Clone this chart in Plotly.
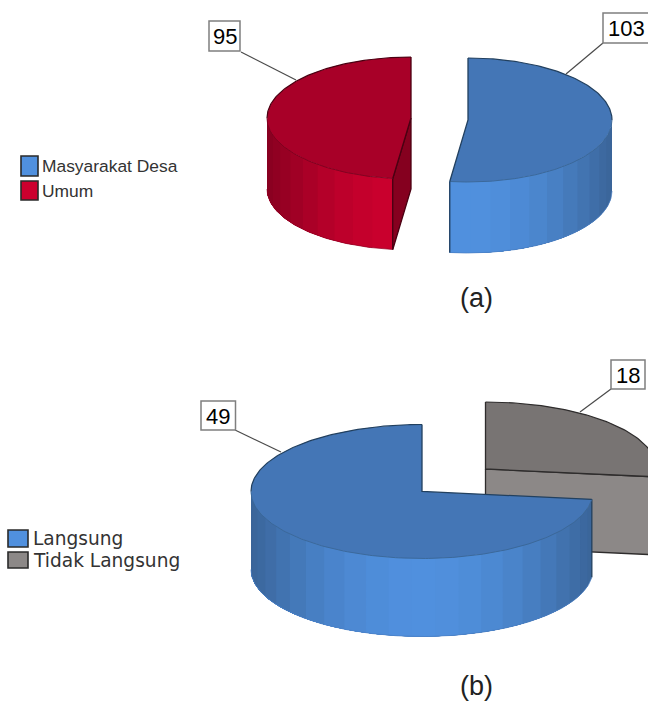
import math
import plotly.graph_objects as go

# Respondent counts for the two pie charts
labels_a = ["Masyarakat Desa", "Umum"]
values_a = [103, 95]
labels_b = ["Langsung", "Tidak Langsung"]
values_b = [49, 18]

BLUE = dict(top="#4476B6", light="#5090DE", dark="#3A6498", edge="#22405F", rim="#3A6696", base="#4A80C4")
RED = dict(top="#A80028", light="#CC002E", dark="#870020", edge="#4A0012", rim="#7A001E", base="#900022", inner="#85001F")
GREY = dict(top="#787473", light="#8C8887", dark="#6E6A69", edge="#2E2C2C", rim="#3A3838", base="#777372", inner="#8C8887")

fig = go.Figure()


def rim(p, deg, drop=0):
    a = math.radians(deg)
    return p["cx"] + p["rx"] * math.sin(a), p["cy"] + drop - p["ry"] * math.cos(a)


def arc(p, start, stop, drop=0, step=1.0):
    n = max(2, int(abs(stop - start) / step) + 1)
    return [rim(p, start + (stop - start) * i / (n - 1), drop) for i in range(n)]


def mix(c1, c2, f):
    a = [int(c1[i:i + 2], 16) for i in (1, 3, 5)]
    b = [int(c2[i:i + 2], 16) for i in (1, 3, 5)]
    return "#%02x%02x%02x" % tuple(round(x + (y - x) * f) for x, y in zip(a, b))


def poly(points, fill, line=None, width=0.0, closed=True):
    xs = [q[0] for q in points]
    ys = [q[1] for q in points]
    if closed:
        xs.append(xs[0])
        ys.append(ys[0])
    fig.add_trace(go.Scatter(
        x=xs, y=ys, mode="lines", hoverinfo="skip", showlegend=False,
        fill="toself" if fill else "none", fillcolor=fill,
        line=dict(color=line or fill or "rgba(0,0,0,0)", width=width),
    ))


def slice3d(p, start, stop, col, band=8.0):
    """Draw a wedge running clockwise from start to stop, in degrees from 12 o'clock."""
    # Outer wall: only the front half of the cylinder can be seen
    for base in (0, 360, -360):
        lo, hi = max(start + base, 90), min(stop + base, 270)
        if lo >= hi:
            continue
        n = max(1, round((hi - lo) / band))
        # Each band runs to the far end of the wall, so later bands cover the seams
        for i in range(n):
            a, b = lo + (hi - lo) * i / n, lo + (hi - lo) * (i + 1) / n
            t = abs(math.sin(math.radians((a + b) / 2 - 180)))
            shade = mix(col["light"], col["dark"], t ** 2)
            poly(arc(p, a, hi) + arc(p, hi, a, p["depth"]), shade)
        poly(arc(p, lo, hi, p["depth"]), None, col["base"], 0.7, closed=False)
        for ang in (lo, hi):
            if ang not in (90, 270):
                poly([rim(p, ang), rim(p, ang, p["depth"])], None, col["edge"], 1.3, closed=False)
    # Cut face that looks towards the viewer
    if "cut" in p:
        centre = (p["cx"], p["cy"])
        ang = p["cut"]
        poly([centre, rim(p, ang), rim(p, ang, p["depth"]), (p["cx"], p["cy"] + p["depth"])],
             col["inner"], col["edge"], 1.3)
    # Top face
    centre = (p["cx"], p["cy"])
    poly([centre] + arc(p, start, stop), col["top"], None, 0)
    lo, hi = max(start, 90), min(stop, 270)
    if start < 0:
        lo, hi = max(start + 360, 90), 270
    if lo < hi:
        poly(arc(p, lo, hi), None, col["rim"], 0.9, closed=False)
    back = arc(p, start, min(stop, 90)) if start >= 0 else arc(p, 270, 360)
    poly(back, None, col["edge"], 1.2, closed=False)
    poly([rim(p, start), centre, rim(p, stop)], None, col["edge"], 1.3, closed=False)


# Chart (a): two wedges pulled apart
sweep_a = [360 * v / sum(values_a) for v in values_a]
pie_a_blue = dict(cx=468, cy=120, rx=144, ry=62, depth=71)
pie_a_red = dict(cx=411, cy=118, rx=144, ry=61, depth=71, cut=-sweep_a[1])
slice3d(pie_a_blue, 0, sweep_a[0], BLUE)
slice3d(pie_a_red, -sweep_a[1], 0, RED)

# Chart (b): the smaller wedge sits behind the larger one
sweep_b = [360 * v / sum(values_b) for v in values_b]
pie_b_blue = dict(cx=422, cy=491.5, rx=171, ry=67, depth=78)
pie_b_grey = dict(cx=485.5, cy=469, rx=171, ry=67, depth=78, cut=sweep_b[1])
slice3d(pie_b_grey, 0, sweep_b[1], GREY)
slice3d(pie_b_blue, -sweep_b[0], 0, BLUE)

shapes = []
annotations = []


def callout(text, box, tip, end):
    x0, y0, x1, y1 = box
    shapes.append(dict(type="line", x0=tip[0], y0=tip[1], x1=end[0], y1=end[1],
                       line=dict(color="#4A4A4A", width=1.2)))
    shapes.append(dict(type="rect", x0=x0, y0=y0, x1=x1, y1=y1, fillcolor="white",
                       line=dict(color="#7F7F7F", width=1.5)))
    annotations.append(dict(x=(x0 + x1) / 2, y=(y0 + y1) / 2 + 0.5, text=str(text), showarrow=False,
                            font=dict(family="Liberation Sans", size=22, color="black")))


def legend_row(text, swatch, colour, tx, font):
    x0, y0, x1, y1 = swatch
    shapes.append(dict(type="rect", x0=x0, y0=y0, x1=x1, y1=y1, fillcolor=colour,
                       line=dict(color="#2A2A2A", width=1.6)))
    annotations.append(dict(x=tx, y=(y0 + y1) / 2, text=text, showarrow=False, xanchor="left",
                            font=font))


callout(values_a[1], (209, 21, 240, 51), (241, 52), (296, 80))
callout(values_a[0], (603, 13, 650, 43), (603, 43), (566, 74))
callout(values_b[0], (201, 401, 235.5, 430), (235, 430), (281, 452))
callout(values_b[1], (611, 360, 645, 389), (611, 389), (580, 412))

font_a = dict(family="Liberation Sans", size=17.4, color="#333333")
font_b = dict(family="DejaVu Sans", size=18.6, color="#333333")
legend_row(labels_a[0], (21, 156, 38, 176), BLUE["light"], 40, font_a)
legend_row(labels_a[1], (21, 181, 38, 200), RED["light"], 40, font_a)
legend_row(labels_b[0], (8, 530, 28, 547), BLUE["light"], 31, font_b)
legend_row(labels_b[1], (8, 552, 28, 568), GREY["light"], 31, font_b)

for text, x, y in (("(a)", 476, 298), ("(b)", 476, 686)):
    annotations.append(dict(x=x, y=y, text=text, showarrow=False,
                            font=dict(family="Liberation Sans", size=27, color="#222222")))

fig.update_layout(
    width=648, height=702, margin=dict(l=0, r=0, t=0, b=0),
    paper_bgcolor="white", plot_bgcolor="white", showlegend=False,
    xaxis=dict(range=[0, 648], visible=False, fixedrange=True),
    yaxis=dict(range=[702, 0], visible=False, fixedrange=True),
    shapes=shapes, annotations=annotations,
)
fig.write_html("out.html", config=dict(displayModeBar=False))
